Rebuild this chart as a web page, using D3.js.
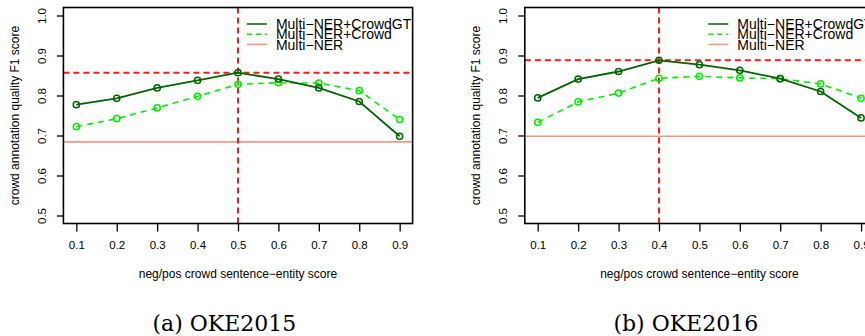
<!DOCTYPE html>
<html>
<head>
<meta charset="utf-8">
<script src="https://cdn.jsdelivr.net/npm/d3@7"></script>
<style>
    body { margin: 0; background: #fff; }
    svg { display: block; }
    text { font-family: 'Liberation Sans', Arial, sans-serif; fill: #000; }
    .caption { font-family: 'DejaVu Serif', 'Liberation Serif', serif; }
</style>
</head>
<body>
<div id="chart"></div>
<script>
// Data
const thresholds = [0.1, 0.2, 0.3, 0.4, 0.5, 0.6, 0.7, 0.8, 0.9];

const oke2015CrowdGT = [0.777, 0.793, 0.819, 0.838, 0.857, 0.841, 0.819, 0.785, 0.698];
const oke2015Crowd = [0.722, 0.742, 0.769, 0.798, 0.828, 0.832, 0.831, 0.812, 0.740];
const oke2015MultiNER = 0.684;
const oke2015BestX = 0.5;

const oke2016CrowdGT = [0.794, 0.841, 0.860, 0.888, 0.877, 0.863, 0.842, 0.810, 0.744];
const oke2016Crowd = [0.733, 0.784, 0.806, 0.843, 0.848, 0.844, 0.842, 0.829, 0.793];
const oke2016MultiNER = 0.698;
const oke2016BestX = 0.4;

const xTicks = [0.1, 0.2, 0.3, 0.4, 0.5, 0.6, 0.7, 0.8, 0.9];
const yTicks = [0.5, 0.6, 0.7, 0.8, 0.9, 1.0];
const legendLabels = ['Multi\u2212NER+CrowdGT', 'Multi\u2212NER+Crowd', 'Multi\u2212NER'];
const captions = ['(a) OKE2015', '(b) OKE2016'];

const xTitle = 'neg/pos crowd sentence\u2212entity score';
const yTitle = 'crowd annotation quality F1 score';

// Styles
const darkGreen = '#006400';
const lightGreen = '#00ee00';
const salmon = '#f29883';
const red = '#ff1a1a';

const width = 865;
const height = 336;

const svg = d3.select('#chart')
    .append('svg')
    .attr('width', width)
    .attr('height', height);

const panels = [
    { left: 63.4, crowdGT: oke2015CrowdGT, crowd: oke2015Crowd, multi: oke2015MultiNER, bestX: oke2015BestX, caption: captions[0] },
    { left: 524.8, crowdGT: oke2016CrowdGT, crowd: oke2016Crowd, multi: oke2016MultiNER, bestX: oke2016BestX, caption: captions[1] }
];

const boxTop = 7.5;
const boxBottom = 223.5;
const boxWidth = 349.2;

panels.forEach((p, i) => drawPanel(p, i));

function drawPanel(p, idx) {
    const xScale = d3.scaleLinear()
        .domain([0.068, 0.932])
        .range([p.left, p.left + boxWidth]);

    const yScale = d3.scaleLinear()
        .domain([0.48, 1.02])
        .range([boxBottom, boxTop]);

    const g = svg.append('g');

    const clipId = 'clip' + idx;
    g.append('clipPath')
        .attr('id', clipId)
        .append('rect')
        .attr('x', p.left)
        .attr('y', boxTop)
        .attr('width', boxWidth)
        .attr('height', boxBottom - boxTop);

    const plot = g.append('g').attr('clip-path', `url(#${clipId})`);

    // Multi-NER baseline
    plot.append('line')
        .attr('x1', p.left).attr('x2', p.left + boxWidth)
        .attr('y1', yScale(p.multi)).attr('y2', yScale(p.multi))
        .attr('stroke', salmon)
        .attr('stroke-width', 1.6);

    // best threshold markers
    const best = d3.max(p.crowdGT);
    plot.append('line')
        .attr('x1', p.left).attr('x2', p.left + boxWidth)
        .attr('y1', yScale(best)).attr('y2', yScale(best))
        .attr('stroke', red)
        .attr('stroke-width', 2)
        .attr('stroke-dasharray', '6,4');

    plot.append('line')
        .attr('x1', xScale(p.bestX)).attr('x2', xScale(p.bestX))
        .attr('y1', boxTop).attr('y2', boxBottom)
        .attr('stroke', red)
        .attr('stroke-width', 2)
        .attr('stroke-dasharray', '6,4');

    const line = d3.line()
        .x((d, i) => xScale(thresholds[i]))
        .y(d => yScale(d));

    // crowd (dashed)
    plot.append('path')
        .attr('fill', 'none')
        .attr('stroke', lightGreen)
        .attr('stroke-width', 1.6)
        .attr('stroke-dasharray', '6,5')
        .attr('d', line(p.crowd));

    plot.selectAll('.pt-crowd')
        .data(p.crowd)
        .join('circle')
        .attr('class', 'pt-crowd')
        .attr('cx', (d, i) => xScale(thresholds[i]))
        .attr('cy', d => yScale(d))
        .attr('r', 3.1)
        .attr('fill', 'none')
        .attr('stroke', lightGreen)
        .attr('stroke-width', 1.5);

    // crowdGT (solid)
    plot.append('path')
        .attr('fill', 'none')
        .attr('stroke', darkGreen)
        .attr('stroke-width', 1.8)
        .attr('d', line(p.crowdGT));

    plot.selectAll('.pt-gt')
        .data(p.crowdGT)
        .join('circle')
        .attr('class', 'pt-gt')
        .attr('cx', (d, i) => xScale(thresholds[i]))
        .attr('cy', d => yScale(d))
        .attr('r', 3.1)
        .attr('fill', 'none')
        .attr('stroke', darkGreen)
        .attr('stroke-width', 1.5);

    // x axis
    const xAxis = g.append('g')
        .attr('transform', `translate(0,${boxBottom})`)
        .call(d3.axisBottom(xScale).tickValues(xTicks).tickSize(8).tickFormat(d3.format('.1f')));

    xAxis.select('.domain').remove();
    xAxis.selectAll('.tick line').attr('stroke', '#000').attr('stroke-width', 1.3);
    xAxis.selectAll('text')
        .attr('y', 21.5)
        .attr('dy', '0.35em')
        .attr('fill', '#000')
        .style('font-size', '11.5px')
        .style('font-family', "'Liberation Sans', Arial, sans-serif");

    // y axis
    const yAxis = g.append('g')
        .attr('transform', `translate(${p.left},0)`)
        .call(d3.axisLeft(yScale).tickValues(yTicks).tickSize(6.5).tickFormat(d3.format('.1f')));

    yAxis.select('.domain').remove();
    yAxis.selectAll('.tick line').attr('stroke', '#000').attr('stroke-width', 1.3);
    yAxis.selectAll('text')
        .attr('x', 0)
        .attr('y', 0)
        .attr('dy', '0.35em')
        .attr('transform', 'translate(-21.5,0) rotate(-90)')
        .attr('fill', '#000')
        .style('text-anchor', 'middle')
        .style('font-size', '11.5px')
        .style('font-family', "'Liberation Sans', Arial, sans-serif");

    // box
    g.append('rect')
        .attr('x', p.left)
        .attr('y', boxTop)
        .attr('width', boxWidth)
        .attr('height', boxBottom - boxTop)
        .attr('fill', 'none')
        .attr('stroke', '#000')
        .attr('stroke-width', 1.6);

    // titles
    g.append('text')
        .attr('x', p.left + boxWidth / 2)
        .attr('y', 278)
        .style('text-anchor', 'middle')
        .style('font-size', '12px')
        .text(xTitle);

    g.append('text')
        .attr('transform', `translate(${p.left - 49},${(boxTop + boxBottom) / 2}) rotate(-90)`)
        .attr('dy', '0.35em')
        .style('text-anchor', 'middle')
        .style('font-size', '12px')
        .text(yTitle);

    // legend
    const legendColors = [darkGreen, lightGreen, salmon];
    const legendDash = [null, '5,4', null];
    const legend = g.append('g')
        .attr('transform', `translate(${p.left + 183.5},24)`);

    legendLabels.forEach((label, i) => {
        const ly = i * 10.2;
        legend.append('line')
            .attr('x1', 0).attr('x2', 20)
            .attr('y1', ly).attr('y2', ly)
            .attr('stroke', legendColors[i])
            .attr('stroke-width', i === 2 ? 1.6 : 1.5)
            .attr('stroke-dasharray', legendDash[i]);
        legend.append('text')
            .attr('x', 29)
            .attr('y', ly + 5.2)
            .style('font-size', '14px')
            .text(label);
    });

    // caption
    g.append('text')
        .attr('class', 'caption')
        .attr('x', p.left + 161)
        .attr('y', 331)
        .style('text-anchor', 'middle')
        .style('font-size', '22px')
        .text(p.caption);
}
</script>
</body>
</html>
